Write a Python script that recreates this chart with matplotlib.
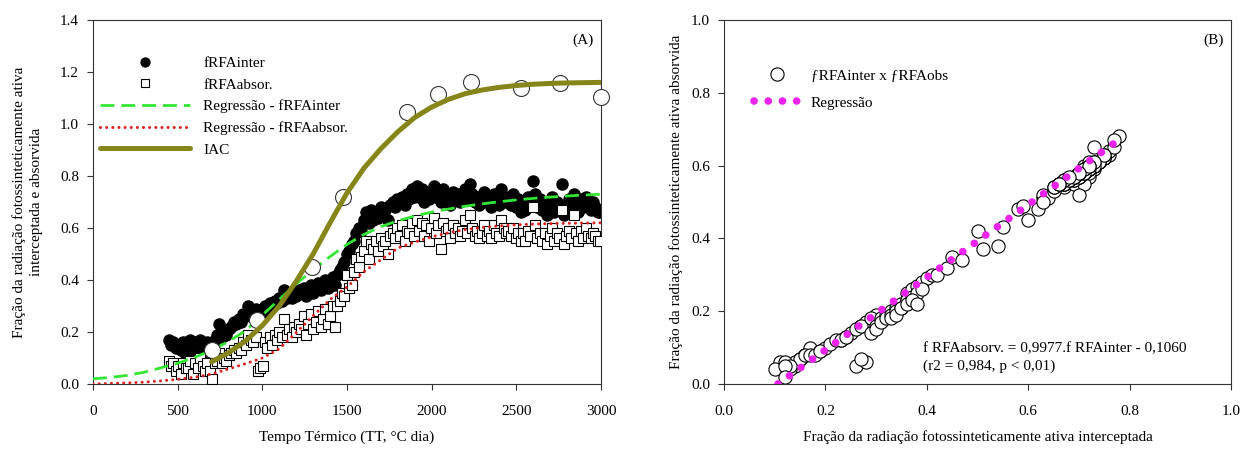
import numpy as np
import matplotlib
matplotlib.use('Agg')
import matplotlib.pyplot as plt
from matplotlib.ticker import FormatStrFormatter

plt.rcParams['font.family'] = ['Liberation Serif', 'DejaVu Serif']
plt.rcParams['font.size'] = 11

# thermal time of each measurement (TT, degC day)
tt = [450, 462, 475, 490, 503, 518, 532, 547, 560, 575, 590, 604, 618, 633, 647, 660, 675, 690,
      705, 718, 732, 745, 760, 774, 788, 802, 817, 830, 845, 860, 874, 888, 903, 917, 931, 945, 960, 974, 988,
      1002, 1016, 1030, 1045, 1059, 1073, 1087, 1101, 1116, 1130, 1144, 1158, 1173, 1187, 1201, 1215,
      1230, 1244, 1258, 1272, 1287, 1301, 1315, 1329, 1344, 1358, 1372, 1386, 1400, 1415, 1429, 1443,
      1457, 1471, 1485, 1499, 1513, 1527, 1542, 1556, 1570, 1584, 1598,
      1613, 1627, 1641, 1655, 1670, 1684, 1698, 1712, 1727, 1741, 1755, 1769, 1784, 1798, 1812, 1826,
      1841, 1855, 1869, 1883, 1897,
      1912, 1926, 1940, 1954, 1969, 1983, 1997, 2011, 2026, 2040, 2054, 2068, 2083, 2097, 2111, 2125,
      2140, 2154, 2168, 2182, 2197, 2211, 2225, 2239, 2254, 2268, 2282, 2296, 2311, 2325, 2339, 2353,
      2368, 2382, 2396, 2410, 2425, 2439,
      2453, 2468, 2482, 2496, 2510, 2525, 2539, 2553, 2567, 2582, 2596, 2610, 2624, 2639, 2653, 2667,
      2681, 2696, 2710, 2724, 2738, 2753, 2767, 2781, 2795, 2810, 2824, 2838, 2852, 2867, 2881, 2895,
      2909, 2924, 2938, 2952, 2966, 2981, 2995]

# fraction of PAR intercepted
f_inter = [0.17, 0.15, 0.16, 0.14, 0.15, 0.13, 0.16, 0.11, 0.14, 0.17, 0.10, 0.16, 0.12, 0.17, 0.15, 0.13, 0.16, 0.12,
           0.12, 0.17, 0.19, 0.23, 0.18, 0.20, 0.19, 0.21, 0.22, 0.24, 0.23, 0.25, 0.24, 0.27, 0.26, 0.30, 0.28, 0.27, 0.29, 0.26, 0.28,
           0.27, 0.30, 0.29, 0.31, 0.30, 0.32, 0.31, 0.33, 0.32, 0.36, 0.33, 0.34, 0.33, 0.35, 0.34, 0.36,
           0.35, 0.37, 0.34, 0.36, 0.38, 0.35, 0.37, 0.39, 0.36, 0.38, 0.40, 0.37, 0.39, 0.41, 0.38, 0.42,
           0.44, 0.45, 0.47, 0.50, 0.51, 0.54, 0.55, 0.58, 0.60, 0.59, 0.63,
           0.66, 0.62, 0.67, 0.63, 0.66, 0.64, 0.68, 0.65, 0.67, 0.63, 0.69, 0.70, 0.68, 0.71, 0.70, 0.72,
           0.69, 0.73, 0.71, 0.75, 0.72,
           0.76, 0.72, 0.75, 0.70, 0.74, 0.71, 0.73, 0.76, 0.72, 0.74, 0.70, 0.75, 0.72, 0.73, 0.69, 0.74,
           0.71, 0.73, 0.70, 0.72, 0.75, 0.71, 0.77, 0.73, 0.70, 0.72, 0.69, 0.71, 0.74, 0.70, 0.72, 0.68,
           0.73, 0.71, 0.69, 0.75, 0.72, 0.70,
           0.72, 0.69, 0.73, 0.68, 0.71, 0.66, 0.70, 0.67, 0.72, 0.69, 0.78, 0.73, 0.68, 0.71, 0.67, 0.70,
           0.65, 0.69, 0.72, 0.66, 0.70, 0.68, 0.77, 0.65, 0.69, 0.71, 0.67, 0.73, 0.70, 0.66, 0.71, 0.68,
           0.72, 0.69, 0.67, 0.70, 0.68, 0.66, 0.66]

# fraction of PAR absorbed
f_abs = [0.09, 0.07, 0.08, 0.05, 0.07, 0.04, 0.08, 0.06, 0.06, 0.09, 0.04, 0.08, 0.06, 0.10, 0.07, 0.05, 0.08, 0.05,
         0.02, 0.08, 0.09, 0.12, 0.08, 0.10, 0.09, 0.11, 0.12, 0.13, 0.12, 0.14, 0.13, 0.16, 0.15, 0.19, 0.17, 0.16, 0.18, 0.05, 0.06,
         0.07, 0.16, 0.14, 0.18, 0.15, 0.19, 0.17, 0.20, 0.18, 0.25, 0.19, 0.21, 0.18, 0.22, 0.20, 0.23,
         0.21, 0.26, 0.19, 0.23, 0.27, 0.21, 0.24, 0.28, 0.22, 0.25, 0.29, 0.23, 0.26, 0.30, 0.22, 0.30,
         0.32, 0.35, 0.34, 0.42, 0.37, 0.38, 0.43, 0.48, 0.45, 0.49, 0.51,
         0.55, 0.48, 0.54, 0.52, 0.55, 0.51, 0.56, 0.53, 0.55, 0.50, 0.57, 0.58, 0.56, 0.60, 0.57, 0.61,
         0.55, 0.59, 0.58, 0.62, 0.57,
         0.63, 0.59, 0.62, 0.57, 0.61, 0.55, 0.60, 0.64, 0.58, 0.61, 0.52, 0.62, 0.59, 0.60, 0.56, 0.61,
         0.58, 0.60, 0.57, 0.59, 0.63, 0.58, 0.65, 0.60, 0.57, 0.59, 0.56, 0.58, 0.61, 0.57, 0.59, 0.56,
         0.61, 0.58, 0.57, 0.63, 0.60, 0.58,
         0.59, 0.57, 0.60, 0.56, 0.58, 0.55, 0.58, 0.55, 0.59, 0.57, 0.68, 0.61, 0.56, 0.58, 0.55, 0.58,
         0.54, 0.57, 0.60, 0.55, 0.58, 0.56, 0.67, 0.54, 0.57, 0.59, 0.56, 0.65, 0.58, 0.55, 0.59, 0.56,
         0.60, 0.57, 0.56, 0.58, 0.57, 0.55, 0.55]

# leaf area index observations
iac_tt = [703, 969, 1293, 1477, 1855, 2038, 2233, 2528, 2758, 3000]
iac_obs = [0.13, 0.245, 0.45, 0.72, 1.045, 1.115, 1.16, 1.138, 1.158, 1.105]

# fitted curves
fit_tt = [0, 100, 200, 300, 400, 500, 600, 700, 800, 900, 1000, 1100, 1200, 1300, 1400, 1500,
          1600, 1700, 1800, 1900, 2000, 2100, 2200, 2300, 2400, 2500, 2600, 2700, 2800, 2900, 3000]
fit_inter = [0.020, 0.025, 0.033, 0.045, 0.062, 0.080, 0.102, 0.130, 0.163, 0.205, 0.265, 0.325, 0.385,
             0.440, 0.490, 0.537, 0.575, 0.605, 0.628, 0.646, 0.661, 0.673, 0.684, 0.693, 0.701,
             0.708, 0.714, 0.719, 0.723, 0.727, 0.730]
fit_abs = [0.000, 0.002, 0.004, 0.007, 0.012, 0.018, 0.026, 0.038, 0.058, 0.078, 0.100, 0.135, 0.198,
           0.262, 0.325, 0.373, 0.432, 0.478, 0.523, 0.546, 0.566, 0.582, 0.594, 0.602, 0.608,
           0.612, 0.615, 0.617, 0.618, 0.619, 0.620]
iac_fit_tt = [700, 800, 900, 1000, 1100, 1200, 1300, 1400, 1500, 1600, 1700, 1800, 1900, 2000,
              2100, 2200, 2300, 2400, 2500, 2600, 2700, 2800, 2900, 3000]
iac_fit = [0.085, 0.12, 0.165, 0.225, 0.30, 0.395, 0.50, 0.62, 0.735, 0.83, 0.905, 0.97, 1.025, 1.065,
           1.095, 1.117, 1.131, 1.141, 1.148, 1.153, 1.156, 1.158, 1.159, 1.160]

# regression line of panel B (ends)
reg_x = [0.1063, 0.778]
reg_y = [0.0, 0.670]

olive = '#85851a'
green = '#33e633'
red = '#e02020'
magenta = '#ee22ee'

fig = plt.figure(figsize=(12.45, 4.51), dpi=100)
ax1 = fig.add_axes([93/1245, 67/451, 508/1245, 364/451])
ax2 = fig.add_axes([724/1245, 67/451, 507/1245, 364/451])

# panel A
ax1.plot(tt, f_inter, 'o', color='black', ms=8, label='fRFAinter', zorder=2)
ax1.plot(tt, f_abs, 's', mfc='white', mec='black', mew=0.8, ms=6.5, label='fRFAabsor.', zorder=3)
ax1.plot(fit_tt, fit_inter, color=green, lw=2, dashes=(5, 2.5), label='Regressão - fRFAinter', zorder=4)
ax1.plot(fit_tt, fit_abs, color=red, lw=2.2, linestyle=(0, (0.01, 2.0)), dash_capstyle='round',
         label='Regressão - fRFAabsor.', zorder=4)
ax1.plot(iac_tt, iac_obs, 'o', mfc='white', mec='#333333', mew=0.8, ms=11.5, zorder=5, clip_on=False)
ax1.plot(iac_fit_tt, iac_fit, color=olive, lw=3.6, solid_capstyle='round', label='IAC', zorder=6)

ax1.set_xlim(0, 3000)
ax1.set_ylim(0, 1.4)
ax1.set_xticks([0, 500, 1000, 1500, 2000, 2500, 3000])
ax1.set_yticks(np.arange(0, 1.41, 0.2))
ax1.yaxis.set_major_formatter(FormatStrFormatter('%.1f'))
ax1.set_xlabel('Tempo Térmico (TT, °C dia)', labelpad=9)
ax1.set_ylabel('Fração da radiação fotossinteticamente ativa\ninterceptada e absorvida',
               labelpad=12, linespacing=1.45)
ax1.text(0.985, 0.945, '(A)', transform=ax1.transAxes, ha='right', va='center')
ax1.legend(loc='upper left', bbox_to_anchor=(0.014, 0.90), frameon=False, borderpad=0,
           handlelength=5.9, handletextpad=0.85, labelspacing=0.52, markerscale=0.8, borderaxespad=0)

# panel B
ax2.plot(f_inter, f_abs, 'o', mfc='white', mec='black', mew=0.8, ms=9.5, label='ƒRFAinter x ƒRFAobs', zorder=2)
ax2.plot(reg_x, reg_y, color=magenta, lw=5.5, linestyle=(0, (0.01, 1.85)), dash_capstyle='round',
         label='Regressão', zorder=3)
ax2.set_xlim(0, 1.0)
ax2.set_ylim(0, 1.0)
ax2.set_xticks(np.arange(0, 1.01, 0.2))
ax2.set_yticks(np.arange(0, 1.01, 0.2))
ax2.xaxis.set_major_formatter(FormatStrFormatter('%.1f'))
ax2.yaxis.set_major_formatter(FormatStrFormatter('%.1f'))
ax2.set_xlabel('Fração da radiação fotossinteticamente ativa interceptada', labelpad=9)
ax2.set_ylabel('Fração da radiação fotossinteticamente ativa absorvida', labelpad=6)
ax2.text(0.985, 0.945, '(B)', transform=ax2.transAxes, ha='right', va='center')
ax2.text(0.392, 0.072, 'f RFAabsorv. = 0,9977.f RFAinter - 0,1060\n(r2 = 0,984, p < 0,01)',
         transform=ax2.transAxes, ha='left', va='center', linespacing=1.45)
ax2.legend(loc='upper left', bbox_to_anchor=(0.06, 0.865), frameon=False, borderpad=0,
           handlelength=3.0, handletextpad=0.7, labelspacing=0.85, borderaxespad=0)

for ax in (ax1, ax2):
    for sp in ax.spines.values():
        sp.set_linewidth(0.8)
        sp.set_color('#333333')
    ax.tick_params(direction='out', length=4, width=0.8, color='#333333', labelsize=11, pad=6)
    ax.tick_params(axis='x', pad=11)

fig.savefig('out.png', dpi=100)
